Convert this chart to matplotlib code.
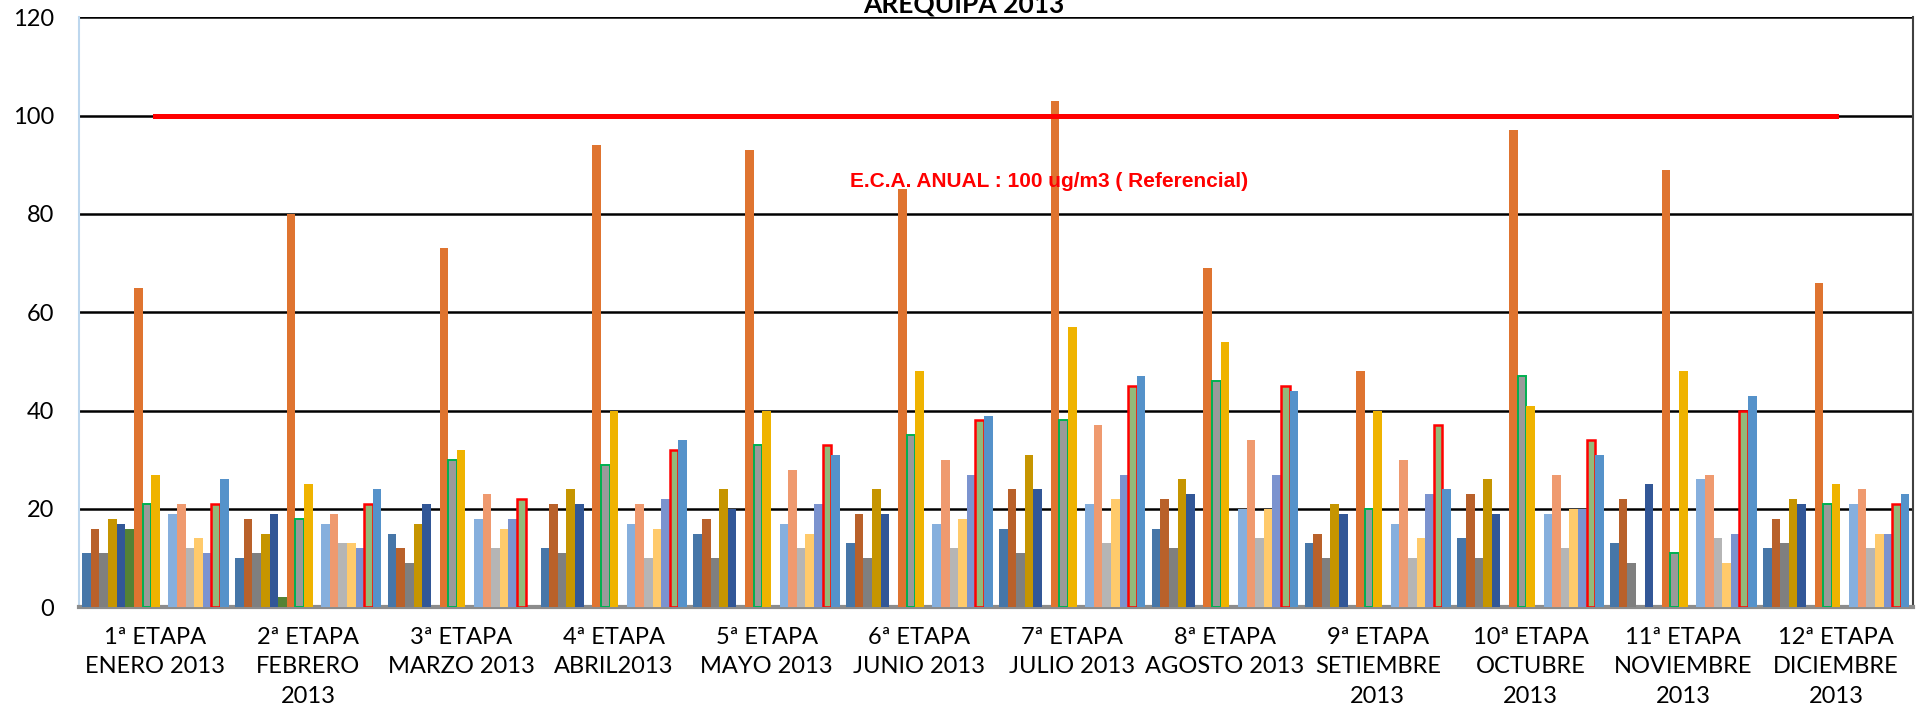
import numpy as np
import matplotlib
matplotlib.use("Agg")
import matplotlib.pyplot as plt

# etapas (categorias del eje x)
etapas = ["1ª ETAPA\nENERO 2013", "2ª ETAPA\nFEBRERO\n2013", "3ª ETAPA\nMARZO 2013",
          "4ª ETAPA\nABRIL2013", "5ª ETAPA\nMAYO 2013", "6ª ETAPA\nJUNIO 2013",
          "7ª ETAPA\nJULIO 2013", "8ª ETAPA\nAGOSTO 2013", "9ª ETAPA\nSETIEMBRE\n2013",
          "10ª ETAPA\nOCTUBRE\n2013", "11ª ETAPA\nNOVIEMBRE\n2013", "12ª ETAPA\nDICIEMBRE\n2013"]

# valores por estacion (ug/m3), 0 = sin dato
est01 = [11, 10, 15, 12, 15, 13, 16, 16, 13, 14, 13, 12]
est02 = [16, 18, 12, 21, 18, 19, 24, 22, 15, 23, 22, 18]
est03 = [11, 11, 9, 11, 10, 10, 11, 12, 10, 10, 9, 13]
est04 = [18, 15, 17, 24, 24, 24, 31, 26, 21, 26, 0, 22]
est05 = [17, 19, 21, 21, 20, 19, 24, 23, 19, 19, 25, 21]
est06 = [16, 2, 0, 0, 0, 0, 0, 0, 0, 0, 0, 0]
est07 = [65, 80, 73, 94, 93, 85, 103, 69, 48, 97, 89, 66]
est08 = [21, 18, 30, 29, 33, 35, 38, 46, 20, 47, 11, 21]
est09 = [27, 25, 32, 40, 40, 48, 57, 54, 40, 41, 48, 25]
est10 = [0, 0, 0, 0, 0, 0, 0, 0, 0, 0, 0, 0]
est11 = [19, 17, 18, 17, 17, 17, 21, 20, 17, 19, 26, 21]
est12 = [21, 19, 23, 21, 28, 30, 37, 34, 30, 27, 27, 24]
est13 = [12, 13, 12, 10, 12, 12, 13, 14, 10, 12, 14, 12]
est14 = [14, 13, 16, 16, 15, 18, 22, 20, 14, 20, 9, 15]
est15 = [11, 12, 18, 22, 21, 27, 27, 27, 23, 20, 15, 15]
est16 = [21, 21, 22, 32, 33, 38, 45, 45, 37, 34, 40, 21]
est17 = [26, 24, 0, 34, 31, 39, 47, 44, 24, 31, 43, 23]

eca_anual = 100

colores = ["#4676A8", "#B9612A", "#7F7F7F", "#C69500", "#325797", "#548235",
           "#DF7430", "#9A9A9A", "#EFB300", "#FFFFFF", "#86AFDD", "#EF9A6F",
           "#B5B5B5", "#FFCA6B", "#7B93CF", "#93BA7A", "#5592CA"]

series = [est01, est02, est03, est04, est05, est06, est07, est08, est09,
          est10, est11, est12, est13, est14, est15, est16, est17]

fig = plt.figure(figsize=(19.28, 7.2), dpi=100)
ax = fig.add_axes([0.041, 0.1565, 0.951, 0.8195])

x = np.arange(len(etapas))
n = len(series)
w = 1.0 / (n + 0.75)

for i, vals in enumerate(series):
    off = (i - (n - 1) / 2) * w
    if i == 7:
        ax.bar(x + off, vals, w, color=colores[i], edgecolor="#00B050", linewidth=1.4, zorder=3)
    elif i == 15:
        ax.bar(x + off, vals, w, color=colores[i], edgecolor="#FF0000", linewidth=1.8, zorder=3)
    else:
        ax.bar(x + off, vals, w, color=colores[i], linewidth=0, zorder=3)

# linea del ECA anual
ax.plot([x[0], x[-1]], [eca_anual, eca_anual], color="#FF0000", linewidth=3.6, zorder=5)
ax.text(5.85, 86.7, "E.C.A. ANUAL : 100 ug/m3 ( Referencial)", color="#FF0000",
        fontsize=15, fontweight="bold", family="Liberation Sans",
        ha="center", va="center", zorder=6)

ax.set_xlim(-0.5, len(etapas) - 0.5)
ax.set_ylim(0, 120)
ax.set_yticks(range(0, 121, 20))
ax.yaxis.grid(True, color="black", linewidth=1.8)
ax.set_axisbelow(True)

ax.set_xticks(x)
ax.set_xticklabels(etapas, family="Lato", fontsize=17, linespacing=1.5)
for lbl in ax.get_yticklabels():
    lbl.set_family("Lato")
    lbl.set_fontsize(17)
ax.tick_params(axis="both", length=0)
ax.tick_params(axis="x", pad=14)
ax.tick_params(axis="y", pad=18)

ax.spines["top"].set_visible(False)
ax.spines["left"].set_color("#BDD7EE")
ax.spines["left"].set_linewidth(1.5)
ax.spines["right"].set_color("#404040")
ax.spines["right"].set_linewidth(1.5)
ax.spines["bottom"].set_color("#8C8C8C")
ax.spines["bottom"].set_linewidth(3)

fig.text(0.5, 0.983, "AREQUIPA 2013", ha="center", va="baseline",
         fontsize=19, fontweight="bold", family="Lato")

fig.savefig("out.png", dpi=100)
